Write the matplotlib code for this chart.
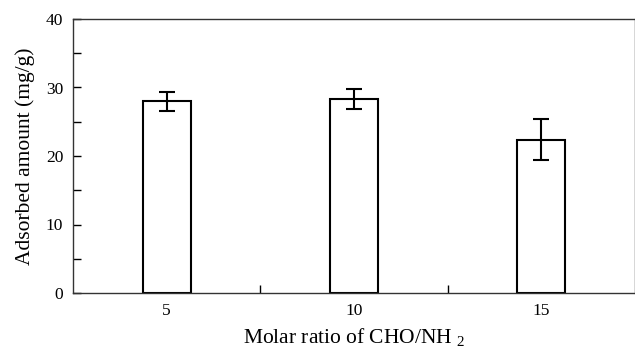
import matplotlib
matplotlib.use("Agg")
import matplotlib.pyplot as plt
import numpy as np

categories = ["5", "10", "15"]
values = [28.0, 28.3, 22.4]
errors = [1.4, 1.45, 3.0]

plt.rcParams['font.family'] = ['Liberation Serif', 'DejaVu Serif']
plt.rcParams['mathtext.fontset'] = 'custom'
plt.rcParams['mathtext.rm'] = 'Liberation Serif'
plt.rcParams['mathtext.it'] = 'Liberation Serif'

fig = plt.figure(figsize=(6.35, 3.48), dpi=100)
ax = fig.add_axes([73/635, 1-293/348, (635-73)/635, (293-19)/348])

x = np.arange(len(categories))
ax.bar(x, values, width=0.255, color='white', edgecolor='black', linewidth=1.5,
       yerr=errors, error_kw=dict(ecolor='black', elinewidth=1.5, capsize=6, capthick=1.5), zorder=2)

ax.set_xlim(-0.5, 2.5)
ax.set_ylim(0, 40)
ax.set_yticks([0, 10, 20, 30, 40])
ax.set_yticks([5, 15, 25, 35], minor=True)
ax.set_xticks(x)
ax.set_xticklabels(categories)
ax.set_xticks([0.5, 1.5], minor=True)
ax.tick_params(axis='x', which='major', length=0, pad=7, labelsize=12.5)
ax.tick_params(axis='x', which='minor', direction='in', length=6, width=1)
ax.tick_params(axis='y', which='both', direction='in', length=6, width=1, labelsize=12.5, pad=7)

for s in ax.spines.values():
    s.set_linewidth(1.0)
    s.set_color('#333333')

ax.set_ylabel("Adsorbed amount (mg/g)", fontsize=15.5, labelpad=8)
ax.set_xlabel(r"Molar ratio of CHO/NH $_2$", fontsize=15.5, labelpad=5)

fig.savefig("out.png", dpi=100)
